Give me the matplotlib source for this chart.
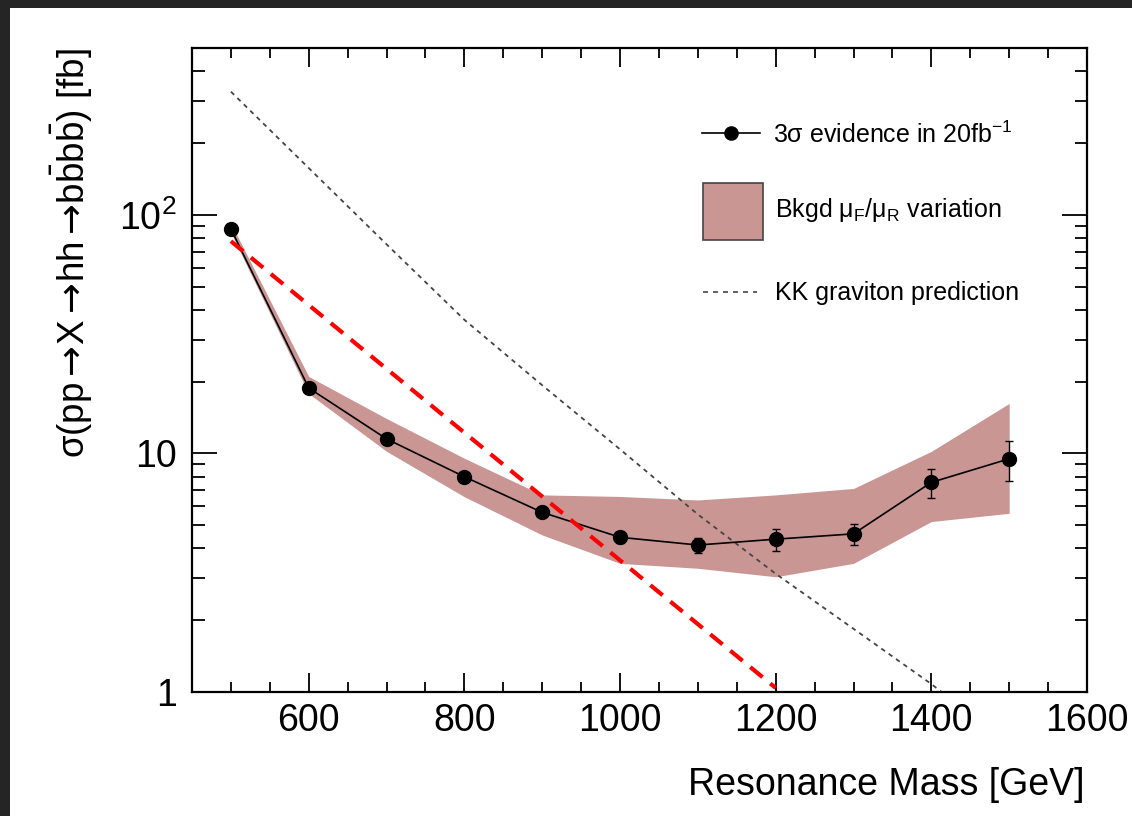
import matplotlib
matplotlib.use('Agg')
import matplotlib.pyplot as plt
from matplotlib.lines import Line2D
from matplotlib.patches import Rectangle
from matplotlib.ticker import MultipleLocator, LogLocator, FuncFormatter, NullFormatter

plt.rcParams['font.family'] = ['Liberation Sans', 'DejaVu Sans']
plt.rcParams['mathtext.fontset'] = 'custom'
plt.rcParams['mathtext.rm'] = 'Liberation Sans'
plt.rcParams['mathtext.it'] = 'Liberation Sans:italic'
plt.rcParams['mathtext.bf'] = 'Liberation Sans:bold'
plt.rcParams['mathtext.sf'] = 'DejaVu Sans'

W, H = 1132, 816

# 3 sigma evidence reach with 20 fb^-1
mass = [500, 600, 700, 800, 900, 1000, 1100, 1200, 1300, 1400, 1500]
xsec = [87.2, 18.8, 11.5, 7.98, 5.66, 4.45, 4.13, 4.37, 4.60, 7.56, 9.49]
xsec_err = [3.0, 0.8, 0.4, 0.3, 0.25, 0.25, 0.3, 0.47, 0.48, 1.05, 1.8]

# background mu_F / mu_R scale variation envelope
band_lo = [84, 17.8, 10.2, 6.58, 4.55, 3.46, 3.30, 3.04, 3.46, 5.18, 5.61]
band_hi = [92, 21.0, 14.0, 9.54, 6.70, 6.60, 6.38, 6.70, 7.13, 10.2, 16.2]

# KK graviton cross section
kk_mass = [500, 600, 700, 800, 900, 1000, 1100, 1200, 1300, 1400, 1420]
kk_xsec = [328, 157, 75.2, 36.3, 19.3, 10.4, 5.55, 3.13, 1.84, 1.08, 0.96]

# red dashed straight line
ref_mass = [500, 1200]
ref_xsec = [77.5, 1.04]


def fx(px):
    return px / W


def fy(py):
    return 1 - py / H


fig = plt.figure(figsize=(W / 100, H / 100), dpi=100)
fig.patch.set_facecolor('#252525')
fig.add_artist(Rectangle((fx(10), 0), 1, fy(8), transform=fig.transFigure,
                         facecolor='white', edgecolor='none', zorder=-1))

ax = fig.add_axes([fx(192), fy(692), fx(1087 - 192), (692 - 48) / H])
ax.set_facecolor('white')

band_color = '#c99694'
kk_color = '#444444'
ax.fill_between(mass, band_lo, band_hi, color=band_color, linewidth=0, zorder=1)
ax.plot(kk_mass, kk_xsec, color=kk_color, lw=1.3, dashes=(2.5, 2.5), zorder=2)
ax.errorbar(mass, xsec, yerr=xsec_err, fmt='o-', color='k', ms=10, lw=1.2,
            elinewidth=1.0, capsize=3, capthick=1.0, zorder=4)
ax.plot(ref_mass, ref_xsec, color='#ff0000', lw=3, dashes=(3.8, 2.4), zorder=5)

ax.set_xlim(450, 1600)
ax.set_yscale('log')
ax.set_ylim(1, 500)

ax.xaxis.set_major_locator(MultipleLocator(200))
ax.xaxis.set_minor_locator(MultipleLocator(50))
ax.yaxis.set_major_locator(LogLocator(base=10, subs=(1.0,)))
ax.yaxis.set_minor_locator(LogLocator(base=10, subs=(2, 3, 4, 5, 6, 7, 8, 9)))
ylabels = {1: '1', 10: '10', 100: '10$^2$'}
ax.yaxis.set_major_formatter(FuncFormatter(lambda v, p: ylabels.get(int(round(v)), '')))
ax.yaxis.set_minor_formatter(NullFormatter())

ax.tick_params(which='both', direction='in', top=True, right=True, width=1.3, colors='k')
ax.tick_params(axis='x', which='major', length=14, pad=8, labelsize=27)
ax.tick_params(axis='x', which='minor', length=7)
ax.tick_params(axis='y', which='major', length=18, pad=11, labelsize=27)
ax.tick_params(axis='y', which='minor', length=9)
for sp in ax.spines.values():
    sp.set_linewidth(1.6)

fig.text(fx(1085), fy(795), 'Resonance Mass [GeV]', ha='right', va='baseline', fontsize=27)
arrow = r'\mathsf{\rightarrow}\!'
fig.text(fx(72), fy(48),
         r'$\mathrm{\sigma(pp' + arrow + 'X' + arrow + 'hh' + arrow +
         r'b\bar{b}b\bar{b})\ [fb]}$',
         rotation=90, ha='center', va='top', fontsize=26.5)

# legend entries
leg_fs = 18
fig.add_artist(Line2D([fx(702), fx(760)], [fy(133), fy(133)], color='k', lw=1.2,
                      transform=fig.transFigure))
fig.add_artist(Line2D([fx(731)], [fy(133)], color='k', marker='o', ms=9.5,
                      transform=fig.transFigure))
fig.text(fx(773), fy(143), '3σ evidence in 20fb$^{-1}$', fontsize=leg_fs, va='baseline')

fig.add_artist(Rectangle((fx(703), fy(240)), fx(60), (240 - 183) / H,
                         facecolor=band_color, edgecolor=kk_color, lw=1.2,
                         transform=fig.transFigure))
fig.text(fx(775), fy(217), r'Bkgd μ$_\mathrm{F}$/μ$_\mathrm{R}$ variation',
         fontsize=leg_fs, va='baseline')

fig.add_artist(Line2D([fx(703), fx(757)], [fy(292), fy(292)], color=kk_color, lw=1.2,
                      dashes=(3, 3), transform=fig.transFigure))
fig.text(fx(775), fy(300), 'KK graviton prediction', fontsize=leg_fs, va='baseline')

fig.savefig('out.png', dpi=100, facecolor=fig.get_facecolor())
